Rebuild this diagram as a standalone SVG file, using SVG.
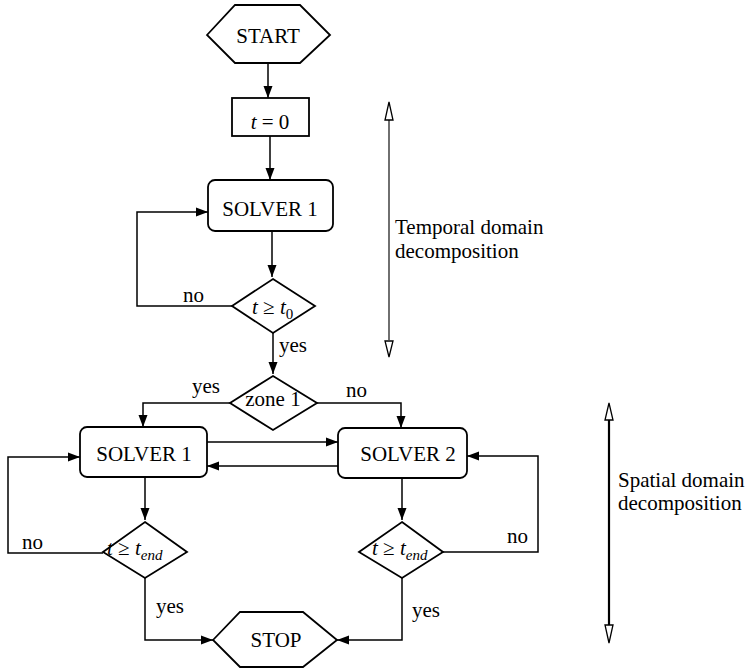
<svg xmlns="http://www.w3.org/2000/svg" width="748" height="670" viewBox="0 0 748 670">
<defs>
<marker id="ah" viewBox="0 0 12 10" refX="12" refY="5" markerWidth="12" markerHeight="10" markerUnits="userSpaceOnUse" orient="auto">
<path d="M0,0.5 L12,5 L0,9.5 Z" fill="#000"/>
</marker>
<style>
text{font-family:"Liberation Serif","Times New Roman",serif;font-size:21px;fill:#000}
.n{fill:#fff;stroke:#000;stroke-width:1.8}
.c{fill:none;stroke:#000;stroke-width:1.5}
.c2{fill:none;stroke:#000;stroke-width:1.5;marker-end:url(#ah)}
.m{text-anchor:middle}
.i{font-style:italic}
.oh{fill:#fff;stroke:#000;stroke-width:1.3}
</style>
</defs>
<g id="connectors">
<path class="c2" d="M268,63 V98"/>
<path class="c2" d="M270,136 V180"/>
<path class="c2" d="M272,231 V277"/>
<path class="c2" d="M232,306 H137 V212 H208"/>
<path class="c2" d="M273,333 V374"/>
<path class="c2" d="M230,403 H143 V427"/>
<path class="c2" d="M317,403 H401 V428"/>
<path class="c2" d="M207,442 H338"/>
<path class="c2" d="M338,466 H207"/>
<path class="c2" d="M145,477 V520"/>
<path class="c2" d="M402,478 V520"/>
<path class="c2" d="M103,553 H8 V457 H80"/>
<path class="c2" d="M443,552 H538 V456 H467"/>
<path class="c2" d="M145,578 V640 H213"/>
<path class="c2" d="M402,578 V640 H337"/>
<text x="183" y="302">no</text>
<text x="279" y="352">yes</text>
<text x="192" y="393">yes</text>
<text x="346" y="397">no</text>
<text x="22" y="549">no</text>
<text x="507" y="543">no</text>
<text x="156" y="613">yes</text>
<text x="412" y="617">yes</text>
</g>
<g id="start">
<polygon class="n" points="207,35 235,5 300,5 330,35 300,63 235,63"/>
<text class="m" x="268" y="43">START</text>
</g>
<g id="init">
<rect class="n" x="232" y="98" width="77" height="38"/>
<text class="m" x="270" y="129"><tspan class="i">t</tspan> = 0</text>
</g>
<g id="solver1-top">
<rect class="n" x="208" y="180" width="125" height="51" rx="7"/>
<text class="m" x="270" y="216">SOLVER 1</text>
</g>
<g id="cond-t0">
<polygon class="n" points="273,279 315,306 273,333 232,306"/>
<text x="252" y="314"><tspan class="i">t</tspan> ≥ <tspan class="i">t</tspan><tspan font-size="15" dy="5">0</tspan></text>
</g>
<g id="zone1">
<polygon class="n" points="273,376 317,403 273,430 230,403"/>
<text class="m" x="273" y="406">zone 1</text>
</g>
<g id="solver1">
<rect class="n" x="80" y="427" width="127" height="50" rx="7"/>
<text class="m" x="144" y="461">SOLVER 1</text>
</g>
<g id="solver2">
<rect class="n" x="338" y="428" width="129" height="50" rx="7"/>
<text class="m" x="408" y="461">SOLVER 2</text>
</g>
<g id="cond-end1">
<polygon class="n" points="145,522 187,552 145,578 103,552"/>
<text x="107" y="555"><tspan class="i">t</tspan> ≥ <tspan class="i">t</tspan><tspan class="i" font-size="15" dy="5">end</tspan></text>
</g>
<g id="cond-end2">
<polygon class="n" points="402,522 443,552 402,578 359,552"/>
<text x="372" y="555"><tspan class="i">t</tspan> ≥ <tspan class="i">t</tspan><tspan class="i" font-size="15" dy="5">end</tspan></text>
</g>
<g id="stop">
<polygon class="n" points="213,640 240,612 303,612 337,640 303,667 240,667"/>
<text class="m" x="276" y="647">STOP</text>
</g>
<g id="temporal">
<line x1="389" y1="120" x2="389" y2="340" stroke="#333" stroke-width="1.4"/>
<polygon class="oh" points="389,102 393,120 385,120"/>
<polygon class="oh" points="389,357 393,341 385,341"/>
<text x="395" y="234">Temporal domain</text>
<text x="395" y="258">decomposition</text>
</g>
<g id="spatial">
<line x1="609" y1="420" x2="609" y2="625" stroke="#000" stroke-width="2.2"/>
<polygon class="oh" points="609,403 613,420 605,420"/>
<polygon class="oh" points="609,643 613,625 605,625"/>
<text x="618" y="487">Spatial domain</text>
<text x="618" y="510">decomposition</text>
</g>
</svg>
